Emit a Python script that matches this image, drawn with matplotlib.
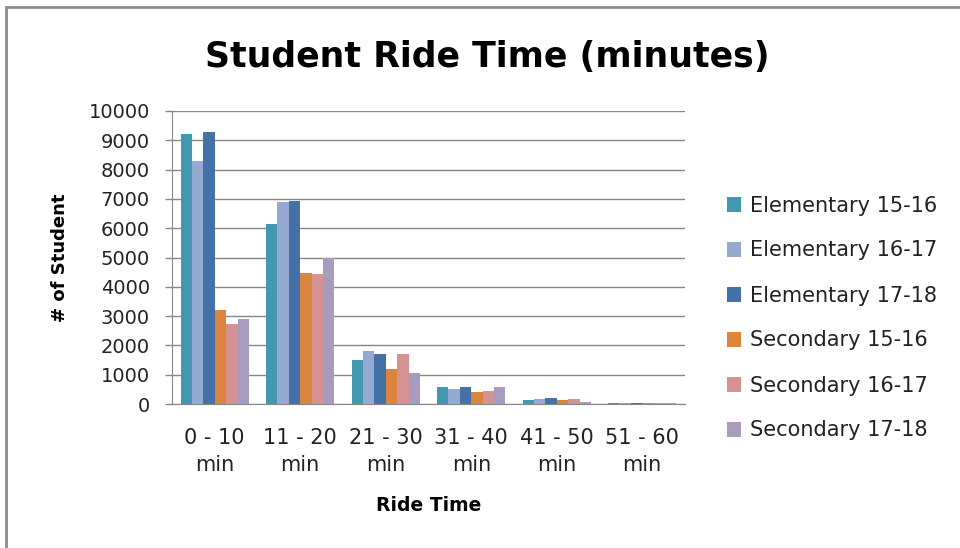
import numpy as np
import matplotlib
matplotlib.use("Agg")
import matplotlib.pyplot as plt
from matplotlib.patches import Rectangle

# ── data ─────────────────────────────────────
categories = ["0 - 10\nmin", "11 - 20\nmin", "21 - 30\nmin",
              "31 - 40\nmin", "41 - 50\nmin", "51 - 60\nmin"]
series_names = ["Elementary 15-16", "Elementary 16-17", "Elementary 17-18",
                "Secondary 15-16", "Secondary 16-17", "Secondary 17-18"]

elem_15_16 = [9200, 6150, 1510, 570, 125, 45]
elem_16_17 = [8310, 6880, 1800, 520, 160, 40]
elem_17_18 = [9270, 6930, 1710, 570, 205, 45]
sec_15_16  = [3210, 4470, 1180, 410, 125, 45]
sec_16_17  = [2720, 4420, 1710, 440, 160, 40]
sec_17_18  = [2910, 5000, 1060, 570, 80, 35]

series = [elem_15_16, elem_16_17, elem_17_18, sec_15_16, sec_16_17, sec_17_18]
colors = ["#4198AF", "#95A9D1", "#4371A8", "#DB843D", "#D59292", "#A99BBD"]

# ── figure ───────────────────────────────────
plt.rcParams["font.family"] = ["DejaVu Sans"]
fig = plt.figure(figsize=(9.6, 5.48), dpi=100)
ax = fig.add_axes([172 / 960, 1 - 404 / 548, (685 - 172) / 960, (404 - 111) / 548])

x = np.arange(len(categories))
n = len(series)
w = 0.8 / n
for i, (vals, name, c) in enumerate(zip(series, series_names, colors)):
    ax.bar(x - 0.4 + w * (i + 0.5), vals, width=w, color=c, label=name,
           linewidth=0, zorder=3)

ax.set_xlim(-0.5, len(categories) - 0.5)
ax.set_ylim(0, 10000)
ax.set_yticks(np.arange(0, 10001, 1000))
ax.set_xticks(x)
ax.set_xticklabels(categories, fontsize=15, linespacing=1.45)
ax.tick_params(axis="x", length=0, pad=17, colors="#222222")
ax.tick_params(axis="y", length=5, width=1, color="#868686", pad=11,
               labelsize=14, labelcolor="#222222")

ax.grid(axis="y", color="#868686", linewidth=1, zorder=0)
for s in ["top", "right"]:
    ax.spines[s].set_visible(False)
ax.spines["left"].set_color("#868686")
ax.spines["bottom"].set_color("#868686")

ax.set_ylabel("# of Student", fontsize=13, fontweight="bold", labelpad=14)
ax.set_xlabel("Ride Time", fontsize=13.5, fontweight="bold", labelpad=15)

fig.text(487 / 960, 1 - 57 / 548, "Student Ride Time (minutes)",
         fontsize=25, fontweight="bold", ha="center", va="center")

ax.legend(loc="center left", bbox_to_anchor=(708 / 960, 1 - 318 / 548),
          bbox_transform=fig.transFigure, frameon=False, fontsize=15,
          handlelength=0.7, handleheight=0.7, handletextpad=0.4,
          labelspacing=1.2, labelcolor="#222222")

# chart border (left and top edges visible)
fig.patches.append(Rectangle((6 / 960, -0.1), 1.2, 1 - 7 / 548 + 0.1,
                             transform=fig.transFigure, fill=False,
                             edgecolor="#8c8c8c", linewidth=2))

fig.savefig("out.png", dpi=100)
